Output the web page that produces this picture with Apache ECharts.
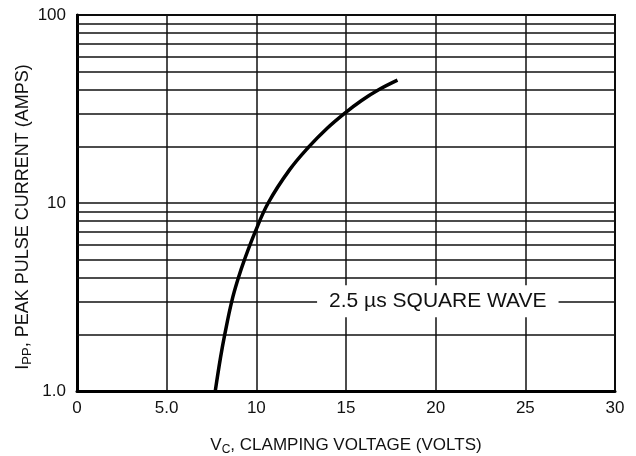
<!DOCTYPE html>
<html><head><meta charset="utf-8">
<script src="https://cdn.jsdelivr.net/npm/echarts@6/dist/echarts.min.js"></script>
<style>html,body{margin:0;padding:0;background:#fff}#c{width:636px;height:456px}</style>
</head><body><div id="c"></div>
<script>
// Data
var voltage = [7.71, 8.0, 8.24, 8.63, 9.0, 9.34, 9.93, 10.66, 11.85, 12.95, 13.95, 14.92, 15.85, 16.82, 17.87];
var current = [1, 1.5, 2, 3, 4, 5, 7, 10, 15, 20, 25, 30, 35, 40, 45];
var minorY = [2, 3, 4, 5, 6, 7, 8, 9, 20, 30, 40, 50, 60, 70, 80, 90];
var yTickValues = [1, 10, 100];
var yTickLabels = ['1.0', '10', '100'];
var xTickValues = [0, 5, 10, 15, 20, 25, 30];
var xTickLabels = ['0', '5.0', '10', '15', '20', '25', '30'];
var noteText = '2.5 \u00b5s SQUARE WAVE';
var noteCoord = [20.12, 3];

var FONT = "'Liberation Sans', Arial, sans-serif";
var curve = voltage.map(function (v, i) { return [v, current[i]]; });

var chart = echarts.init(document.getElementById('c'), null, {renderer: 'canvas'});
chart.setOption({
  animation: false,
  backgroundColor: '#fff',
  grid: {left: 77, right: 21, top: 15, bottom: 65, containLabel: false, outerBoundsMode: 'none',
         show: true, borderColor: '#000', borderWidth: 2},
  xAxis: {
    type: 'value', min: 0, max: 30, interval: 5,
    axisLine: {show: true, onZero: false, lineStyle: {color: '#000', width: 3}},
    axisTick: {show: false},
    splitLine: {show: true, lineStyle: {color: '#111', width: 1.5}},
    axisLabel: {
      color: '#111', fontFamily: FONT, fontSize: 17, margin: 9,
      formatter: function (v) { var i = xTickValues.indexOf(v); return i >= 0 ? xTickLabels[i] : ''; }
    },
    name: '{m|V}{s|C}{m|, CLAMPING VOLTAGE (VOLTS)}',
    nameLocation: 'middle', nameGap: 44, nameMoveOverlap: false,
    nameTextStyle: {
      rich: {
        m: {fontFamily: FONT, fontSize: 17, color: '#111'},
        s: {fontFamily: FONT, fontSize: 12, color: '#111', verticalAlign: 'bottom', padding: [9, 0, 0, 0]}
      }
    }
  },
  yAxis: {
    type: 'log', logBase: 10, min: 1, max: 100,
    axisLine: {show: true, lineStyle: {color: '#000', width: 3}},
    axisTick: {show: false},
    minorTick: {show: false},
    splitLine: {show: true, lineStyle: {color: '#111', width: 1.5}},
    axisLabel: {
      color: '#111', fontFamily: FONT, fontSize: 17, margin: 11,
      formatter: function (v) {
        for (var i = 0; i < yTickValues.length; i++) { if (Math.abs(v - yTickValues[i]) < 1e-6) return yTickLabels[i]; }
        return '';
      }
    },
    name: '{m|I}{s|PP}{m|, PEAK PULSE CURRENT (AMPS)}',
    nameLocation: 'middle', nameRotate: 90, nameGap: 43, nameMoveOverlap: false,
    nameTextStyle: {
      padding: [0, 28, 0, 0],
      rich: {
        m: {fontFamily: FONT, fontSize: 18, color: '#111'},
        s: {fontFamily: FONT, fontSize: 13, color: '#111', verticalAlign: 'bottom', padding: [9, 0, 0, 0]}
      }
    }
  },
  series: [
    {
      type: 'line', data: [], silent: true,
      markLine: {
        silent: true, symbol: ['none', 'none'], animation: false,
        label: {show: false},
        lineStyle: {color: '#111', width: 1.5, type: 'solid'},
        data: minorY.map(function (y) { return {yAxis: y}; })
      }
    },
    {
      type: 'line', data: curve, smooth: 0.4, showSymbol: false, symbol: 'none',
      lineStyle: {color: '#000', width: 3.5}, z: 5,
      markPoint: {
        silent: true, symbol: 'rect', symbolSize: 0,
        label: {
          show: true, position: 'inside', formatter: noteText,
          fontFamily: FONT, fontSize: 21, color: '#111',
          backgroundColor: '#fff', padding: [6, 12, 5, 12]
        },
        data: [{coord: noteCoord}]
      }
    }
  ]
});
</script>
</body></html>
